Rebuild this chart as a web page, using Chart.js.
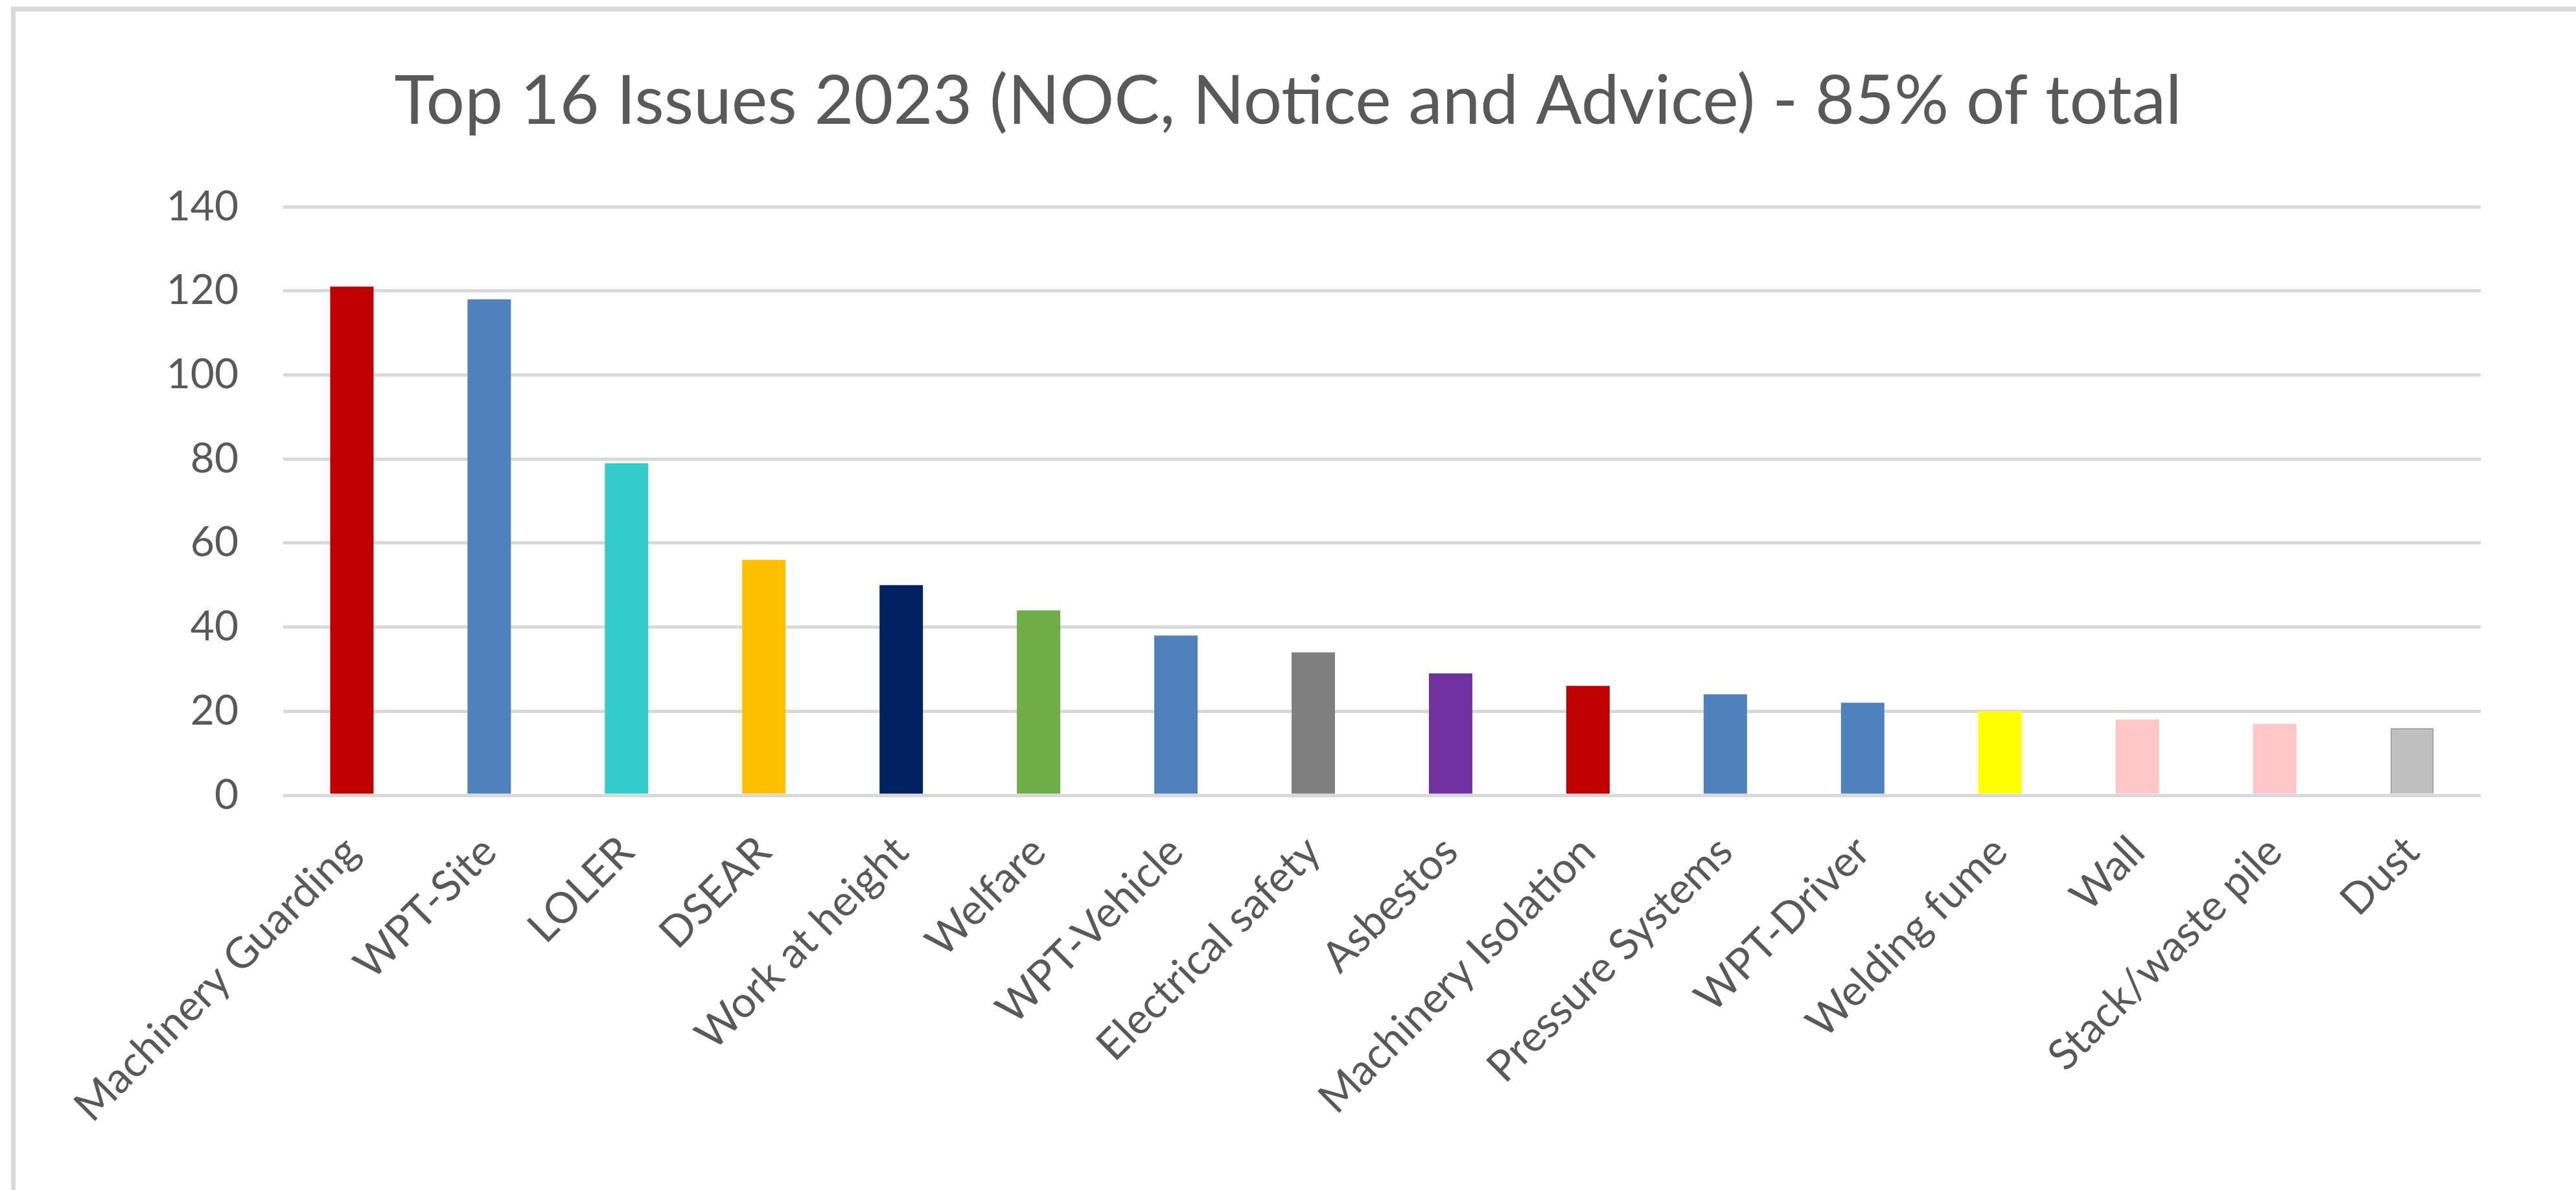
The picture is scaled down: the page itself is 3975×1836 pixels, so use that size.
<!DOCTYPE html>
<html>
<head>
<meta charset="utf-8">
<script src="https://cdn.jsdelivr.net/npm/chart.js@4/dist/chart.umd.min.js"></script>
<style>
  html, body { margin: 0; padding: 0; background: #fff; }
  #wrap { position: relative; width: 3975px; height: 1836px; }
  #frame {
    position: absolute; left: 17px; top: 10px; right: 0; bottom: 0;
    border-top: 8px solid #d9d9d9; border-left: 7px solid #d9d9d9;
    pointer-events: none;
  }
  canvas { position: absolute; left: 0; top: 0; }
</style>
</head>
<body>
<div id="wrap">
  <canvas id="chart" width="3975" height="1836"></canvas>
  <div id="frame"></div>
</div>
<script>
// categories and values
const issues = [
  "Machinery Guarding", "WPT-Site", "LOLER", "DSEAR", "Work at height",
  "Welfare", "WPT-Vehicle", "Electrical safety", "Asbestos", "Machinery Isolation",
  "Pressure Systems", "WPT-Driver", "Welding fume", "Wall", "Stack/waste pile", "Dust"
];
const counts = [121, 118, 79, 56, 50, 44, 38, 34, 29, 26, 24, 22, 20, 18, 17, 16];
const barColours = [
  "#C00000", "#4F81BD", "#33CCCC", "#FFC000", "#002060",
  "#70AD47", "#4F81BD", "#7F7F7F", "#7030A0", "#C00000",
  "#4F81BD", "#4F81BD", "#FFFF00", "#FFC7C7", "#FFC7C7", "#BFBFBF"
];
const yTicks = [0, 20, 40, 60, 80, 100, 120, 140];
const chartTitle = "Top 16 Issues 2023 (NOC, Notice and Advice) - 85% of total";

const textGrey = "#595959";
const font = "Lato, 'Liberation Sans', sans-serif";

let ctx = document.getElementById("chart").getContext("2d");

new Chart(ctx, {
  type: "bar",
  data: {
    labels: issues,
    datasets: [{
      data: counts,
      backgroundColor: barColours,
      borderColor: barColours.map((c, i) => i === barColours.length - 1 ? "#A6A6A6" : c),
      borderWidth: barColours.map((c, i) => i === barColours.length - 1 ? 3 : 0),
      borderSkipped: "bottom",
      barPercentage: 0.316,
      categoryPercentage: 1
    }]
  },
  options: {
    responsive: false,
    animation: false,
    layout: { padding: 0 },
    plugins: {
      legend: { display: false },
      tooltip: { enabled: false },
      title: {
        display: true,
        text: chartTitle,
        color: textGrey,
        font: { family: font, size: 105, weight: "normal", lineHeight: 1.2 },
        padding: { top: 94, bottom: 99 }
      }
    },
    scales: {
      x: {
        grid: { display: false },
        border: { display: false },
        ticks: {
          color: textGrey,
          font: { family: font, size: 66 },
          minRotation: 45,
          maxRotation: 45,
          padding: 40,
          autoSkip: false
        },
        afterFit: (scale) => { scale.height = 609; }
      },
      y: {
        min: yTicks[0],
        max: yTicks[yTicks.length - 1],
        afterBuildTicks: (scale) => { scale.ticks = yTicks.map(v => ({ value: v })); },
        grid: { color: "#D9D9D9", lineWidth: 5, drawTicks: false },
        border: { display: false },
        ticks: {
          color: textGrey,
          font: { family: font, size: 64 },
          padding: 69
        },
        afterFit: (scale) => { scale.width = 437; }
      },
      // empty strip on the right so the title centres on the whole picture
      yRight: {
        position: "right",
        grid: { display: false },
        border: { display: false },
        ticks: { display: false },
        afterFit: (scale) => { scale.width = 147; }
      }
    }
  }
});
</script>
</body>
</html>
